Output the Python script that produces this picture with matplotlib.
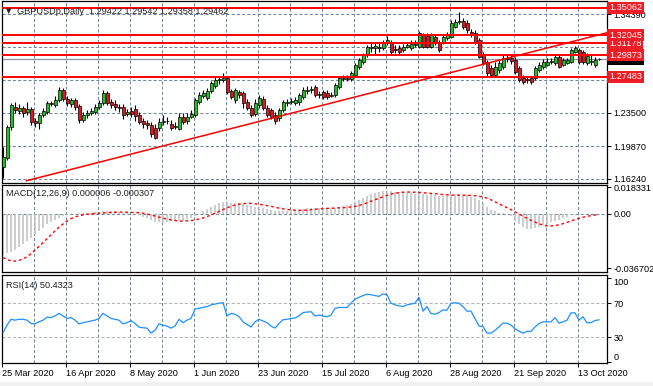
import numpy as np
import matplotlib
matplotlib.use("Agg")
import matplotlib.pyplot as plt
from matplotlib.transforms import blended_transform_factory
from matplotlib.patches import Rectangle

# ---------------- data ----------------
date_labels = ["25 Mar 2020", "16 Apr 2020", "8 May 2020", "1 Jun 2020", "23 Jun 2020",
               "15 Jul 2020", "6 Aug 2020", "28 Aug 2020", "21 Sep 2020", "13 Oct 2020"]

opens = [1.1756, 1.1855, 1.2196, 1.2416, 1.2372, 1.2405, 1.2361, 1.2394, 1.2262, 1.2240,
         1.2328, 1.2361, 1.2460, 1.2438, 1.2493, 1.2603, 1.2504, 1.2449, 1.2493, 1.2427,
         1.2273, 1.2328, 1.2350, 1.2361, 1.2416, 1.2460, 1.2570, 1.2471, 1.2449, 1.2416,
         1.2416, 1.2339, 1.2372, 1.2394, 1.2328, 1.2262, 1.2240, 1.2218, 1.2185, 1.2185,
         1.2251, 1.2257, 1.2229, 1.2196, 1.2174, 1.2306, 1.2262, 1.2306, 1.2328, 1.2471,
         1.2537, 1.2515, 1.2592, 1.2647, 1.2713, 1.2713, 1.2735, 1.2592, 1.2493, 1.2581,
         1.2570, 1.2471, 1.2405, 1.2339, 1.2438, 1.2504, 1.2405, 1.2383, 1.2328, 1.2295,
         1.2383, 1.2460, 1.2471, 1.2460, 1.2471, 1.2526, 1.2592, 1.2603, 1.2636, 1.2548,
         1.2581, 1.2570, 1.2537, 1.2548, 1.2636, 1.2724, 1.2735, 1.2724, 1.2768, 1.2856,
         1.2911, 1.2988, 1.3076, 1.3065, 1.3076, 1.3065, 1.3131, 1.3131, 1.3054, 1.3065,
         1.3043, 1.3076, 1.3065, 1.3098, 1.3076, 1.3208, 1.3197, 1.3076, 1.3186, 1.3131,
         1.3131, 1.3175, 1.3186, 1.3296, 1.3356, 1.3362, 1.3340, 1.3241, 1.3230, 1.3153,
         1.2988, 1.2911, 1.2845, 1.2768, 1.2823, 1.2856, 1.2944, 1.2955, 1.2933, 1.2845,
         1.2735, 1.2724, 1.2735, 1.2735, 1.2823, 1.2856, 1.2878, 1.2911, 1.2900, 1.2966,
         1.2878, 1.2900, 1.2911, 1.3021, 1.3043, 1.3021, 1.2900, 1.2911, 1.2878, 1.29422]

highs = [1.1976, 1.2218, 1.2460, 1.2471, 1.2449, 1.2427, 1.2471, 1.2416, 1.2295, 1.2350,
         1.2405, 1.2482, 1.2482, 1.2537, 1.2636, 1.2625, 1.2537, 1.2515, 1.2515, 1.2449,
         1.2361, 1.2383, 1.2405, 1.2449, 1.2493, 1.2603, 1.2592, 1.2504, 1.2493, 1.2449,
         1.2449, 1.2394, 1.2416, 1.2438, 1.2361, 1.2295, 1.2273, 1.2251, 1.2229, 1.2295,
         1.2328, 1.2306, 1.2273, 1.2251, 1.2350, 1.2350, 1.2350, 1.2383, 1.2515, 1.2581,
         1.2603, 1.2625, 1.2702, 1.2746, 1.2757, 1.2790, 1.2757, 1.2614, 1.2625, 1.2603,
         1.2592, 1.2504, 1.2438, 1.2504, 1.2548, 1.2537, 1.2438, 1.2405, 1.2361, 1.2405,
         1.2493, 1.2504, 1.2515, 1.2526, 1.2570, 1.2636, 1.2647, 1.2647, 1.2658, 1.2592,
         1.2603, 1.2603, 1.2581, 1.2680, 1.2757, 1.2768, 1.2768, 1.2812, 1.2900, 1.2955,
         1.3010, 1.3098, 1.3131, 1.3120, 1.3120, 1.3153, 1.3197, 1.3153, 1.3098, 1.3098,
         1.3109, 1.3131, 1.3153, 1.3153, 1.3252, 1.3230, 1.3230, 1.3230, 1.3219, 1.3153,
         1.3219, 1.3241, 1.3373, 1.3384, 1.3461, 1.3395, 1.3373, 1.3274, 1.3263, 1.3175,
         1.3021, 1.2933, 1.2878, 1.2911, 1.2933, 1.2988, 1.2999, 1.2988, 1.2966, 1.2867,
         1.2768, 1.2757, 1.2757, 1.2867, 1.2911, 1.2944, 1.2955, 1.2955, 1.2999, 1.2988,
         1.2955, 1.2955, 1.3065, 1.3087, 1.3065, 1.3043, 1.3010, 1.2999, 1.2966, 1.29542]

lows = [1.1635, 1.1833, 1.2163, 1.2350, 1.2339, 1.2306, 1.2328, 1.2218, 1.2196, 1.2174,
        1.2306, 1.2339, 1.2427, 1.2416, 1.2471, 1.2482, 1.2427, 1.2416, 1.2383, 1.2240,
        1.2251, 1.2295, 1.2328, 1.2339, 1.2394, 1.2438, 1.2438, 1.2405, 1.2383, 1.2361,
        1.2284, 1.2317, 1.2306, 1.2262, 1.2229, 1.2185, 1.2174, 1.2086, 1.2064, 1.2152,
        1.2218, 1.2229, 1.2163, 1.2174, 1.2163, 1.2229, 1.2229, 1.2295, 1.2306, 1.2449,
        1.2515, 1.2493, 1.2570, 1.2625, 1.2669, 1.2691, 1.2559, 1.2504, 1.2460, 1.2515,
        1.2405, 1.2383, 1.2306, 1.2317, 1.2405, 1.2383, 1.2306, 1.2284, 1.2229, 1.2262,
        1.2361, 1.2427, 1.2449, 1.2438, 1.2438, 1.2504, 1.2559, 1.2570, 1.2526, 1.2515,
        1.2504, 1.2504, 1.2526, 1.2526, 1.2614, 1.2702, 1.2702, 1.2702, 1.2746, 1.2834,
        1.2889, 1.2966, 1.3021, 1.2988, 1.3021, 1.3043, 1.3098, 1.2999, 1.3010, 1.2988,
        1.3021, 1.3065, 1.3043, 1.3076, 1.3065, 1.3065, 1.3065, 1.3065, 1.3098, 1.3021,
        1.3109, 1.3153, 1.3175, 1.3285, 1.3329, 1.3274, 1.3230, 1.3186, 1.3109, 1.2955,
        1.2878, 1.2757, 1.2746, 1.2746, 1.2790, 1.2834, 1.2911, 1.2889, 1.2779, 1.2691,
        1.2669, 1.2680, 1.2669, 1.2713, 1.2801, 1.2834, 1.2867, 1.2889, 1.2878, 1.2845,
        1.2867, 1.2889, 1.2900, 1.3010, 1.2889, 1.2889, 1.2878, 1.2878, 1.2856, 1.29358]

closes = [1.1866, 1.2196, 1.2438, 1.2383, 1.2405, 1.2350, 1.2394, 1.2251, 1.2240, 1.2328,
          1.2372, 1.2460, 1.2449, 1.2493, 1.2603, 1.2504, 1.2460, 1.2493, 1.2416, 1.2273,
          1.2328, 1.2350, 1.2372, 1.2416, 1.2460, 1.2570, 1.2460, 1.2438, 1.2416, 1.2405,
          1.2328, 1.2361, 1.2339, 1.2317, 1.2251, 1.2229, 1.2218, 1.2119, 1.2075, 1.2251,
          1.2262, 1.2262, 1.2185, 1.2207, 1.2306, 1.2251, 1.2306, 1.2339, 1.2493, 1.2548,
          1.2570, 1.2592, 1.2680, 1.2713, 1.2724, 1.2735, 1.2581, 1.2526, 1.2603, 1.2548,
          1.2460, 1.2405, 1.2328, 1.2460, 1.2515, 1.2405, 1.2328, 1.2306, 1.2262, 1.2383,
          1.2471, 1.2471, 1.2482, 1.2493, 1.2548, 1.2603, 1.2603, 1.2614, 1.2548, 1.2559,
          1.2526, 1.2526, 1.2548, 1.2658, 1.2735, 1.2735, 1.2724, 1.2790, 1.2878, 1.2933,
          1.2988, 1.3076, 1.3065, 1.3087, 1.3065, 1.3120, 1.3153, 1.3021, 1.3043, 1.3021,
          1.3076, 1.3098, 1.3109, 1.3109, 1.3230, 1.3076, 1.3076, 1.3208, 1.3120, 1.3043,
          1.3186, 1.3208, 1.3340, 1.3351, 1.3362, 1.3296, 1.3263, 1.3208, 1.3131, 1.2966,
          1.2900, 1.2790, 1.2768, 1.2856, 1.2900, 1.2955, 1.2955, 1.2922, 1.2801, 1.2713,
          1.2691, 1.2713, 1.2691, 1.2845, 1.2878, 1.2911, 1.2911, 1.2922, 1.2966, 1.2856,
          1.2933, 1.2933, 1.3043, 1.3065, 1.2911, 1.2911, 1.2977, 1.2922, 1.2933, 1.29462]

levels = [1.27483, 1.29873, 1.31178, 1.32045, 1.35062]   # horizontal S/R lines
last_price = 1.29462
trend_x = [5.9, 151.0]        # bar index of trendline anchors
trend_y = [1.1605, 1.3233]

# MACD(12,26,9) values in thousandths
macd_main_milli = [-27.8, -26.5, -25.8, -24.5, -22.5, -20.5, -18.3, -16.0, -14.0, -11.5,
                   -9.2, -7.0, -5.2, -3.8, -2.6, -1.6, -0.8, -0.3, 0.2, 0.4,
                   0.6, 0.8, 1.0, 1.2, 1.4, 1.8, 2.0, 1.9, 1.7, 1.4,
                   1.0, 0.6, 0.3, 0.0, -0.8, -1.8, -2.8, -4.0, -5.2, -5.5,
                   -5.4, -5.2, -5.0, -4.8, -4.2, -3.9, -3.5, -3.0, -1.5, 0.2,
                   1.8, 3.2, 4.8, 6.2, 7.2, 8.0, 8.0, 7.8, 7.8, 7.5,
                   7.0, 6.3, 5.5, 5.0, 4.7, 4.2, 3.5, 2.8, 2.0, 1.8,
                   2.0, 2.2, 2.4, 2.6, 3.0, 3.6, 4.0, 4.3, 4.3, 4.2,
                   4.0, 3.8, 3.7, 4.2, 5.0, 5.6, 6.0, 6.8, 8.0, 9.5,
                   11.0, 12.5, 13.5, 14.2, 14.8, 15.3, 15.8, 15.5, 15.2, 14.8,
                   14.5, 14.2, 14.0, 13.8, 14.3, 13.8, 13.2, 13.3, 12.8, 12.0,
                   12.0, 12.0, 12.8, 13.3, 13.5, 13.2, 12.6, 11.8, 10.8, 9.2,
                   7.2, 5.0, 3.0, 1.8, 0.9, 0.5, 0.2, -1.5, -4.5, -7.0,
                   -9.0, -10.0, -10.2, -9.5, -8.5, -7.5, -6.5, -5.5, -4.5, -4.0,
                   -3.0, -2.0, -0.8, 0.3, 0.0, -0.3, -0.2, -0.3, -0.1, 0.006]

macd_signal_milli = [-29.5, -31.0, -31.8, -32.0, -31.5, -30.5, -29.0, -27.0, -24.5, -22.0,
                     -19.5, -16.8, -14.0, -11.5, -9.0, -6.8, -4.8, -3.2, -2.0, -1.2,
                     -0.6, -0.2, 0.1, 0.3, 0.5, 0.7, 0.9, 1.1, 1.2, 1.3,
                     1.3, 1.2, 1.1, 1.0, 0.9, 0.5, 0.0, -0.7, -1.4, -2.1,
                     -2.8, -3.4, -4.0, -4.4, -4.7, -4.8, -4.7, -4.5, -4.1, -3.4,
                     -2.7, -1.7, -0.7, 0.5, 1.7, 3.0, 4.2, 5.2, 6.1, 6.7,
                     7.1, 7.2, 7.2, 6.9, 6.6, 6.2, 5.7, 5.2, 4.6, 4.0,
                     3.5, 3.1, 2.8, 2.6, 2.5, 2.5, 2.6, 2.9, 3.2, 3.4,
                     3.6, 3.8, 3.9, 4.0, 4.2, 4.3, 4.5, 4.8, 5.2, 5.8,
                     6.6, 7.6, 8.7, 9.7, 10.7, 11.7, 12.7, 13.5, 14.2, 14.5,
                     14.8, 14.9, 14.9, 14.8, 14.7, 14.5, 14.2, 14.0, 13.8, 13.5,
                     13.2, 13.0, 12.9, 12.8, 12.8, 12.8, 12.7, 12.6, 12.4, 12.0,
                     11.6, 10.7, 9.6, 8.3, 6.9, 5.6, 4.3, 3.0, 1.5, 0.0,
                     -1.5, -3.0, -4.3, -5.5, -6.7, -7.5, -8.1, -8.1, -7.9, -7.3,
                     -6.6, -5.7, -4.7, -3.8, -2.9, -2.2, -1.6, -1.1, -0.7, -0.307]

rsi_values = [35.0, 44.0, 51.0, 50.0, 51.0, 51.0, 50.0, 46.0, 45.6, 48.0,
              50.0, 53.5, 53.0, 55.0, 58.0, 55.0, 52.0, 53.0, 50.0, 45.6,
              47.0, 48.0, 49.0, 50.0, 52.0, 58.0, 55.0, 52.0, 51.0, 50.0,
              45.6, 47.0, 49.5, 46.0, 41.8, 41.0, 40.6, 34.7, 38.0, 45.6,
              44.0, 43.0, 40.6, 43.0, 51.0, 47.0, 50.0, 52.0, 63.0, 64.0,
              65.0, 66.0, 68.0, 69.0, 70.0, 70.7, 55.0, 58.0, 57.0, 54.0,
              48.0, 45.0, 41.8, 48.0, 51.0, 49.0, 47.0, 43.0, 40.6, 46.0,
              50.5, 51.0, 52.0, 52.5, 55.0, 59.0, 59.5, 60.0, 55.0, 56.0,
              55.0, 54.0, 56.0, 64.0, 65.0, 65.0, 65.0, 70.0, 74.7, 77.0,
              79.0, 80.6, 80.0, 79.0, 78.0, 81.0, 80.0, 70.0, 68.0, 67.0,
              66.0, 68.0, 69.0, 70.0, 77.0, 60.6, 66.0, 58.0, 57.0, 59.0,
              62.0, 61.8, 70.0, 70.5, 70.0, 66.0, 60.6, 60.6, 52.0, 43.0,
              42.5, 34.7, 34.7, 38.0, 42.0, 46.5, 46.5, 44.0, 40.0, 37.0,
              34.7, 36.7, 36.7, 42.0, 46.0, 48.0, 48.0, 48.0, 53.0, 46.5,
              48.0, 50.0, 58.6, 58.6, 50.0, 54.0, 47.0, 47.0, 49.5, 50.4323]

price_grid = [1.16240, 1.19870, 1.23500, 1.27130, 1.30760, 1.34390]
price_ticks = [1.16240, 1.19870, 1.23500, 1.34390]   # the others sit under the level boxes

# ---------------- styling ----------------
W, H = 653, 386
GREEN = "#22c022"
RED = "#e8141c"
GRID = "#778899"
plt.rcParams['font.family'] = ['Liberation Sans', 'DejaVu Sans']
plt.rcParams['font.size'] = 6.6

fig = plt.figure(figsize=(W / 100, H / 100), dpi=100)
fig.patch.set_facecolor("white")


def add_panel(top, bottom):
    ax = fig.add_axes([2 / W, 1 - bottom / H, 605 / W, (bottom - top) / H])
    ax.set_xlim(-0.25, 151)
    for s in ax.spines.values():
        s.set_color("black")
        s.set_linewidth(0.9)
    ax.yaxis.tick_right()
    ax.tick_params(axis="y", length=3, width=0.7, pad=1.5, labelsize=6.6, colors="black")
    ax.tick_params(axis="x", length=0)
    ax.set_xticks([])
    for k in range(1, 19):
        ax.axvline(8 * k - 0.25, color=GRID, lw=0.75, ls=(0, (3, 2)), zorder=0)
    return ax


def px(x, y):
    return x / W, 1 - y / H


main = add_panel(1, 183)
macd = add_panel(185, 272)
rsi = add_panel(275, 363)

# ----- main panel: candles -----
x = np.arange(len(closes))
o = np.array(opens)
c = np.array(closes)
h = np.array(highs)
l = np.array(lows)
up = c >= o
main.set_ylim(1.1580, 1.3582)
for g in price_grid:
    main.axhline(g, color=GRID, lw=0.75, ls=(0, (3, 2)), zorder=0)
main.vlines(x, l, h, color="black", lw=0.8, zorder=3)
body_lo = np.minimum(o, c)
body_h = np.maximum(np.abs(c - o), 0.0002)
main.bar(x[up], body_h[up], bottom=body_lo[up], width=0.75, color=GREEN,
         edgecolor="black", linewidth=0.5, zorder=4)
main.bar(x[~up], body_h[~up], bottom=body_lo[~up], width=0.75, color=RED,
         edgecolor="black", linewidth=0.5, zorder=4)

main.axhline(last_price, color="#8a96a3", lw=0.9, zorder=2)
for lv in levels:
    main.axhline(lv, color="#ff0000", lw=1.4, zorder=5)
main.plot(trend_x, trend_y, color="#ff0000", lw=1.1, zorder=5)

main.set_yticks(price_ticks)
main.set_yticklabels(["%.5f" % v for v in price_ticks])

tr = blended_transform_factory(main.transAxes, main.transData)
main.text(1.0035, last_price, "%.5f" % last_price, transform=tr, color="white",
          va="center", ha="left", fontsize=6.6, zorder=6,
          bbox=dict(boxstyle="square,pad=0.18", fc="black", ec="none"))
for lv in [1.31178, 1.32045, 1.27483, 1.29873, 1.35062]:
    main.text(1.0035, lv, "%.5f" % lv, transform=tr, color="white", clip_on=False,
              va="center", ha="left", fontsize=6.6, zorder=7,
              bbox=dict(boxstyle="square,pad=0.18", fc="#ee1c24", ec="none"))

fig.text(*px(6, 11), "\u25bc", family="DejaVu Sans", fontsize=5, color="#202020", va="center")
fig.text(*px(17, 11), "GBPUSDp,Daily  1.29422 1.29542 1.29358 1.29462",
         color="#202020", va="center", ha="left")

# ----- MACD panel -----
mm = np.array(macd_main_milli) / 1000.0
ms = np.array(macd_signal_milli) / 1000.0
macd.set_ylim(-0.0394, 0.0197)
macd.axhline(0, color=GRID, lw=0.75, ls=(0, (3, 2)), zorder=0)
macd.vlines(x, 0, mm, color="#c0c0c0", lw=1.1, zorder=2)
macd.plot(x, ms, color="#ff0000", lw=1.0, ls=(0, (2, 2)), zorder=3)
macd.set_yticks([0.018331, 0.0, -0.036702])
macd.set_yticklabels(["0.018331", "0.00", "-0.036702"])
fig.text(*px(6, 194), "MACD(12,26,9) 0.000006 -0.000307", color="#202020", va="center")

# ----- RSI panel -----
rsi.set_ylim(-0.6, 103.3)
for lv in [70, 30]:
    rsi.axhline(lv, color="#b4b4b4", lw=0.75, ls=(0, (3, 2)), zorder=0)
rsi.plot(x, rsi_values, color="#1e90ff", lw=0.9, zorder=3)
rsi.set_yticks([100, 70, 30, 0])
rsi.set_yticklabels(["100", "70", "30", "0"])
lbls = rsi.get_yticklabels()
lbls[0].set_va("top")
lbls[3].set_va("bottom")
fig.text(*px(6, 285), "RSI(14) 50.4323", color="#202020", va="center")

rsi.set_xticks([16 * k - 0.25 for k in range(len(date_labels))])
rsi.set_xticklabels(date_labels)
rsi.tick_params(axis="x", length=3, width=0.7, pad=1.5, labelsize=6.6, direction="out")
for t in rsi.get_xticklabels():
    t.set_ha("left")

fig.patches.append(Rectangle((0, 0), 1, 4 / H, transform=fig.transFigure,
                             color="#f0f0f0", zorder=0))

fig.savefig("out.png", dpi=100)
